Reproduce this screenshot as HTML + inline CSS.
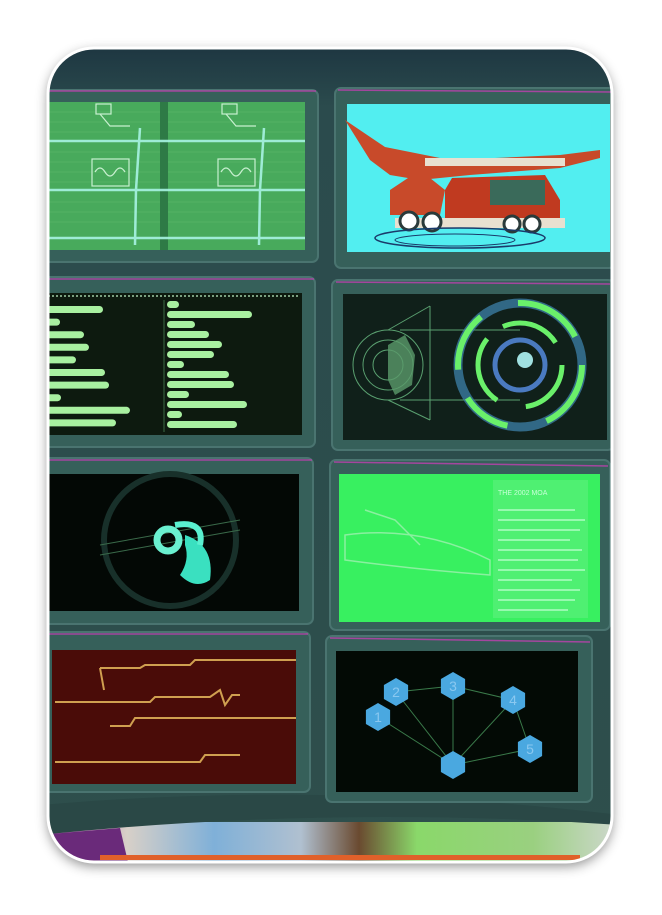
<!DOCTYPE html>
<html><head><meta charset="utf-8"><style>
html,body{margin:0;padding:0;background:#fff;width:662px;height:915px;overflow:hidden;font-family:"Liberation Sans",sans-serif}
</style></head><body>
<svg width="662" height="915" viewBox="0 0 662 915">
<defs>
<clipPath id="card"><rect x="48" y="48" width="564" height="814" rx="46"/></clipPath>
<filter id="sh" x="-10%" y="-10%" width="120%" height="120%"><feDropShadow dx="0" dy="4" stdDeviation="6" flood-color="#000" flood-opacity="0.45"/></filter>
<linearGradient id="bg" x1="0" y1="0" x2="0" y2="1"><stop offset="0" stop-color="#1c3440"/><stop offset="0.08" stop-color="#2b4b4d"/><stop offset="1" stop-color="#2e4f4c"/></linearGradient>
<linearGradient id="strip" x1="0" y1="0" x2="1" y2="0"><stop offset="0" stop-color="#9a3c9a"/><stop offset="0.15" stop-color="#d8d0c8"/><stop offset="0.3" stop-color="#7fb0d8"/><stop offset="0.45" stop-color="#b0c0d0"/><stop offset="0.55" stop-color="#6a4a30"/><stop offset="0.65" stop-color="#8ad86a"/><stop offset="0.85" stop-color="#9ad080"/><stop offset="1" stop-color="#d0d8d0"/></linearGradient>
</defs>
<rect x="48" y="48" width="564" height="814" rx="46" fill="#2e4f4c" filter="url(#sh)"/>
<g clip-path="url(#card)">
<rect x="40" y="40" width="580" height="830" fill="url(#bg)"/>
<rect x="40" y="822" width="580" height="40" fill="url(#strip)"/>
<path d="M40 835 L120 828 L128 862 L40 862Z" fill="#6a2a7a"/>
<rect x="100" y="855" width="480" height="5" fill="#e0602a"/>
<path d="M40 805 Q330 780 620 815 L620 825 Q330 805 40 835Z" fill="#2a4846"/>

<g fill="#36605a" stroke="#4a7470" stroke-width="2">
<rect x="40" y="90" width="278" height="172" rx="6"/>
<rect x="335" y="88" width="280" height="180" rx="6"/>
<rect x="40" y="277" width="275" height="170" rx="6"/>
<rect x="332" y="280" width="282" height="170" rx="6"/>
<rect x="40" y="458" width="273" height="166" rx="6"/>
<rect x="330" y="460" width="280" height="170" rx="6"/>
<rect x="40" y="632" width="270" height="160" rx="6"/>
<rect x="326" y="636" width="266" height="166" rx="6"/>
</g>
<g fill="none" stroke="#c040b0" stroke-width="1.5" opacity="0.8">
<path d="M48 91 L316 91"/><path d="M338 90 L612 92"/><path d="M48 279 L314 279"/><path d="M336 282 L610 284"/>
<path d="M48 460 L312 460"/><path d="M334 462 L608 466"/><path d="M48 634 L308 634"/><path d="M330 638 L590 642"/>
</g>

<g>
<rect x="46" y="102" width="259" height="148" fill="#48aa5c"/>
<g stroke="#5cba6a" stroke-width="1" opacity="0.6">
<path d="M46 112 H305 M46 122 H305 M46 132 H305 M46 152 H305 M46 162 H305 M46 172 H305 M46 182 H305 M46 202 H305 M46 212 H305 M46 222 H305"/>
</g>
<rect x="160" y="102" width="8" height="148" fill="#2e7a46"/>
<g stroke="#a8f4e4" stroke-width="2.5" fill="none" opacity="0.9">
<path d="M46 141 H305"/><path d="M46 190 H305"/><path d="M46 238 H305"/>
<path d="M140 128 L136 190 L135 245"/><path d="M264 128 L260 190 L259 245"/>
</g>
<g stroke="#c8f0d0" stroke-width="1.2" fill="none">
<rect x="92" y="159" width="37" height="27"/><rect x="218" y="159" width="37" height="27"/>
<path d="M95 172 q5 -8 10 0 t10 0 t10 0"/><path d="M221 172 q5 -8 10 0 t10 0 t10 0"/>
<rect x="96" y="104" width="15" height="10"/><rect x="222" y="104" width="15" height="10"/>
<path d="M100 114 L110 126 H130"/><path d="M226 114 L236 126 H256"/>
</g>
</g>

<g>
<rect x="347" y="104" width="263" height="148" fill="#52eef0"/>
<path d="M345 120 L385 147 L450 160 L560 155 L600 150 L600 158 L560 168 L470 175 L420 180 L390 175 L370 160Z" fill="#c84a2a"/>
<rect x="425" y="158" width="140" height="8" fill="#e8e0d0"/>
<path d="M420 170 L390 190 L390 215 L440 215 L445 190Z" fill="#c84a2a"/>
<path d="M452 178 L545 175 L560 200 L560 225 L445 225 L445 190Z" fill="#c03a20"/>
<rect x="490" y="180" width="55" height="25" fill="#3a6a5a"/>
<rect x="395" y="218" width="170" height="10" fill="#e8e0d0"/>
<g fill="#ffffff" stroke="#2a3a3a" stroke-width="3">
<circle cx="409" cy="221" r="9"/><circle cx="432" cy="222" r="9"/><circle cx="512" cy="224" r="8"/><circle cx="532" cy="224" r="8"/>
</g>
<ellipse cx="460" cy="238" rx="85" ry="10" fill="none" stroke="#1a3a6a" stroke-width="1.5"/>
<ellipse cx="455" cy="240" rx="60" ry="6" fill="none" stroke="#1a3a6a" stroke-width="1"/>
</g>

<g>
<rect x="46" y="293" width="256" height="142" fill="#0d1a0f"/>
<path d="M48 296 H300" stroke="#7aa080" stroke-width="2" stroke-dasharray="2 2"/>
<path d="M164 300 V432" stroke="#3a6a44" stroke-width="1"/>
<g id="bars"></g>
</g>

<g>
<rect x="343" y="294" width="264" height="146" fill="#10201a"/>
<g fill="none" stroke="#5aa070" stroke-width="1">
<circle cx="388" cy="365" r="35"/><circle cx="388" cy="365" r="25"/><circle cx="388" cy="365" r="15"/>
<path d="M430 306 L430 420 M388 330 L430 306 M388 400 L430 420 M400 330 H520 M400 400 H520"/>
</g>
<path d="M388 345 L405 335 L415 355 L412 385 L395 395 L388 380Z" fill="#5a9a6a" opacity="0.8"/>
<circle cx="520" cy="365" r="62" fill="none" stroke="#3a7aa0" stroke-width="9" opacity="0.8"/>
<circle cx="520" cy="365" r="62" fill="none" stroke="#6af06a" stroke-width="6" stroke-dasharray="70 40 50 30 60 40"/>
<circle cx="520" cy="365" r="42" fill="none" stroke="#6af06a" stroke-width="5" stroke-dasharray="60 30 70 20"/>
<circle cx="520" cy="365" r="25" fill="none" stroke="#4a7ac0" stroke-width="5"/>
<circle cx="525" cy="360" r="8" fill="#a0e0e0"/>
</g>

<g>
<rect x="46" y="474" width="253" height="137" fill="#030805"/>
<circle cx="170" cy="540" r="66" fill="none" stroke="#18302a" stroke-width="6"/>
<path d="M100 545 L240 520 M100 555 L240 530" stroke="#3a6a4a" stroke-width="1"/>
<circle cx="168" cy="540" r="11" fill="none" stroke="#6af0d0" stroke-width="7"/>
<path d="M185 535 Q215 545 210 580 Q195 590 180 575 Q190 560 185 545Z" fill="#3ae0c0"/>
<path d="M175 525 Q205 520 200 545" stroke="#5af0d0" stroke-width="6" fill="none"/>
</g>

<g>
<rect x="339" y="474" width="261" height="148" fill="#38f060"/>
<rect x="493" y="480" width="95" height="138" fill="#5af07a" opacity="0.7"/>
<text x="498" y="495" font-size="7" fill="#c8ffd8">THE 2002 MOA</text>
<g stroke="#c8ffd8" stroke-width="1.4" opacity="0.8">
<path d="M498 510 H575 M498 520 H585 M498 530 H580 M498 540 H570 M498 550 H582 M498 560 H578 M498 570 H585 M498 580 H572 M498 590 H580 M498 600 H575 M498 610 H568"/>
</g>
<path d="M345 535 Q420 525 490 560 L490 575 Q420 570 345 560Z" fill="none" stroke="#8af0a0" stroke-width="1.5"/>
<path d="M365 510 L395 520 L420 545" fill="none" stroke="#8af0a0" stroke-width="1.5"/>
</g>

<g>
<rect x="52" y="650" width="244" height="134" fill="#4a0c08"/>
<g fill="none" stroke="#d0a050" stroke-width="2">
<path d="M100 668 L104 690 M100 668 H140 L145 665 H190 L195 660 H296"/>
<path d="M55 702 H150 L155 697 H210 L220 690 L225 705 L232 695 H240"/>
<path d="M110 726 H130 L135 718 H296"/>
<path d="M55 762 H200 L205 755 H240"/>
</g>
</g>

<g>
<rect x="336" y="651" width="242" height="141" fill="#030a05"/>
<g id="net"></g>
</g>
</g>
<rect x="48" y="48" width="564" height="814" rx="46" fill="none" stroke="#fff" stroke-width="3"/>

<script>
const leftBars=[57,14,38,43,30,59,63,15,84,70];
const rightBars=[12,85,28,42,55,47,17,62,67,22,80,15,70];
const NS="http://www.w3.org/2000/svg";
const g=document.getElementById('bars');
leftBars.forEach((v,i)=>{
  const r=document.createElementNS(NS,'rect');
  r.setAttribute('x',46);r.setAttribute('y',306+i*12.6);r.setAttribute('width',v);r.setAttribute('height',7);r.setAttribute('rx',3.5);r.setAttribute('fill','#a8f0a0');
  
  
  g.appendChild(r);
});
rightBars.forEach((v,i)=>{
  const r=document.createElementNS(NS,'rect');
  r.setAttribute('x',167);r.setAttribute('y',301+i*10);r.setAttribute('width',v);r.setAttribute('height',7);r.setAttribute('rx',3.5);r.setAttribute('fill','#a8f0a0');
  
  
  g.appendChild(r);
});
const nodeLabels=["1","2","3","4","5",""];
const nodeX=[378,396,453,513,530,453];
const nodeY=[717,692,686,700,749,765];
const edges=[[1,2],[2,3],[3,4],[1,5],[2,5],[3,5],[4,5],[0,5]];
const n=document.getElementById('net');
edges.forEach(e=>{
  const l=document.createElementNS(NS,'line');
  l.setAttribute('x1',nodeX[e[0]]);l.setAttribute('y1',nodeY[e[0]]);l.setAttribute('x2',nodeX[e[1]]);l.setAttribute('y2',nodeY[e[1]]);
  l.setAttribute('stroke','#3a7a4a');
  
  
  n.appendChild(l);
});
nodeLabels.forEach((t,i)=>{
  const x=nodeX[i],y=nodeY[i],s=14;
  const p=document.createElementNS(NS,'polygon');
  let pts=[];for(let k=0;k<6;k++){const a=Math.PI/3*k+Math.PI/6;pts.push((x+s*Math.cos(a)).toFixed(1)+','+(y+s*Math.sin(a)).toFixed(1));}
  p.setAttribute('points',pts.join(' '));p.setAttribute('fill','#4aa8e0');
  
  
  n.appendChild(p);
  const tx=document.createElementNS(NS,'text');
  tx.setAttribute('x',x);tx.setAttribute('y',y+5);tx.setAttribute('text-anchor','middle');tx.setAttribute('font-size','14');tx.setAttribute('fill','#8ac8f0');
  tx.textContent=t;
  
  
  n.appendChild(tx);
});
</script>
</svg>
</body></html>
